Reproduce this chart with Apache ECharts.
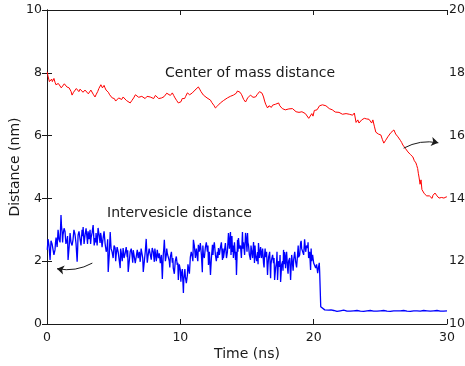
<!DOCTYPE html>
<html>
<head>
<meta charset="utf-8">
<script src="https://cdn.jsdelivr.net/npm/echarts@6/dist/echarts.min.js"></script>
<style>html,body{margin:0;padding:0;background:#fff}#c{width:465px;height:366px}</style>
</head>
<body>
<div id="c"></div>
<script>
var xTicks = [0, 10, 20, 30];
var leftTicks = [0, 2, 4, 6, 8, 10];
var rightTicks = [10, 12, 14, 16, 18, 20];

// Center of mass distance (right axis, nm)
var redTime = [0.02,0.12,0.23,0.35,0.45,0.6,0.75,0.95,1.2,1.4,1.58,1.75,1.88,2.1,2.3,2.48,2.7,3.0,3.2,3.38,3.6,3.8,3.98,4.1,4.21,4.35,4.51,4.7,4.89,5.05,5.26,5.5,5.71,5.95,6.24,6.5,6.77,7.0,7.22,7.5,7.74,8.0,8.27,8.5,8.7,8.87,9.1,9.4,9.6,9.85,10.05,10.23,10.4,10.53,10.7,10.9,11.1,11.35,11.55,11.73,12.0,12.26,12.45,12.63,12.8,13.0,13.25,13.53,13.75,13.98,14.2,14.36,14.6,14.89,15.05,15.26,15.45,15.64,15.85,16.02,16.24,16.4,16.54,16.75,16.92,17.15,17.37,17.55,17.74,18.0,18.27,18.55,18.8,19.0,19.25,19.5,19.77,19.95,20.15,20.35,20.53,20.8,21.05,21.3,21.5,21.75,22.03,22.3,22.56,22.78,23.05,23.31,23.5,23.68,23.9,24.06,24.25,24.44,24.66,24.85,25.04,25.26,25.4,25.56,25.8,26.02,26.15,26.32,26.5,26.69,26.9,27.07,27.25,27.44,27.67,27.8,27.9,28.05,28.2,28.4,28.57,28.8,28.95,29.1,29.25,29.4,29.6,29.77,29.9,30.0];
var redValue = [18.03,17.85,17.67,17.8,17.77,17.7,17.58,17.62,17.55,17.6,17.6,17.5,17.29,17.4,17.45,17.48,17.38,17.42,17.35,17.39,17.23,17.4,17.55,17.6,17.58,17.52,17.48,17.3,17.2,17.18,17.13,17.2,17.23,17.12,17.04,17.2,17.36,17.28,17.2,17.25,17.23,17.18,17.23,17.13,17.22,17.29,17.3,17.36,17.2,17.04,17.08,17.13,17.25,17.36,17.3,17.36,17.45,17.55,17.4,17.29,17.2,17.13,17.0,16.88,16.95,17.04,17.12,17.2,17.25,17.29,17.35,17.39,17.3,17.07,17.2,17.29,17.22,17.23,17.35,17.45,17.23,17.0,16.88,16.92,16.97,17.0,17.04,16.9,16.82,16.88,16.91,16.8,16.72,16.78,16.82,16.65,16.5,16.62,16.75,16.85,16.91,16.95,17.0,16.9,16.82,16.78,16.72,16.7,16.66,16.7,16.72,16.5,16.34,16.45,16.56,16.5,16.56,16.5,16.11,16.05,16.02,15.76,15.85,15.96,16.1,16.18,16.05,15.96,15.85,15.7,15.58,15.48,15.4,15.32,15.13,14.95,14.68,14.59,14.33,14.2,14.11,14.04,14.1,14.17,14.08,14.01,14.03,14.01,14.06,14.04];
var redTimeFine = [0.07,0.18,0.29,0.4,0.52,0.67,0.85,1.07,1.3,1.49,1.66,1.81,1.99,2.2,2.39,2.59,2.85,3.1,3.29,3.49,3.7,3.89,4.04,4.16,4.28,4.43,4.6,4.8,4.97,5.15,5.38,5.6,5.83,6.1,6.37,6.63,6.88,7.11,7.36,7.62,7.87,8.13,8.38,8.6,8.78,8.98,9.25,9.5,9.72,9.95,10.14,10.32,10.46,10.62,10.8,11.0,11.22,11.45,11.64,11.86,12.13,12.35,12.54,12.72,12.9,13.12,13.4,13.64,13.87,14.09,14.28,14.48,14.75,14.97,15.15,15.35,15.55,15.75,15.94,16.13,16.32,16.47,16.65,16.83,17.04,17.26,17.46,17.65,17.87,18.14,18.41,18.68,18.9,19.12,19.38,19.63,19.86,20.05,20.25,20.44,20.66,20.92,21.17,21.4,21.62,21.9,22.16,22.43,22.67,22.92,23.18,23.4,23.6,23.8,23.98,24.15,24.35,24.55,24.75,24.95,25.15,25.33,25.48,25.68,25.9,26.08,26.24,26.41,26.6,26.8,26.98,27.16,27.35,27.55,27.73,27.85,27.98,28.12,28.3,28.48,28.68,28.88,29.02,29.17,29.32,29.5,29.68,29.83,29.95];
var redValueFine = [17.9,17.72,17.75,17.72,17.82,17.62,17.66,17.52,17.65,17.55,17.52,17.4,17.38,17.5,17.4,17.5,17.45,17.33,17.45,17.3,17.32,17.5,17.62,17.52,17.6,17.45,17.38,17.25,17.22,17.1,17.2,17.15,17.18,17.1,17.12,17.3,17.22,17.25,17.18,17.28,17.2,17.28,17.18,17.2,17.24,17.35,17.28,17.28,17.12,17.0,17.18,17.18,17.3,17.38,17.28,17.42,17.5,17.48,17.35,17.25,17.18,17.06,16.95,16.92,17.0,17.08,17.15,17.25,17.22,17.32,17.42,17.38,17.15,17.12,17.22,17.3,17.18,17.3,17.4,17.35,17.1,16.95,16.95,16.9,16.95,17.0,16.95,16.86,16.82,16.85,16.86,16.76,16.74,16.76,16.7,16.55,16.7,16.8,16.82,16.95,16.98,16.95,16.86,16.82,16.75,16.74,16.68,16.7,16.68,16.65,16.42,16.4,16.5,16.55,16.53,16.52,16.4,16.3,16.06,16.0,15.88,15.8,15.88,16.02,16.12,16.12,16.02,15.92,15.78,15.65,15.52,15.45,15.36,15.2,15.05,14.8,14.45,14.28,14.15,14.08,14.08,14.0,14.12,14.12,14.04,14.02,14.05,14.02,14.05];

// Intervesicle distance (left axis, nm)
var blueTime = [0.02,0.08,0.23,0.38,0.45,0.6,0.68,0.83,0.9,1.05,1.13,1.2,1.35,1.5,1.58,1.73,1.8,1.95,2.1,2.26,2.33,2.48,2.63,2.71,2.86,3.0,3.08,3.23,3.31,3.46,3.61,3.68,3.83,3.98,4.06,4.21,4.36,4.51,4.59,4.74,4.81,4.96,5.11,5.19,5.34,5.49,5.56,5.71,5.86,6.02,6.09,6.24,6.39,6.47,6.62,6.77,6.84,6.99,7.14,7.22,7.37,7.44,7.59,7.74,7.89,8.05,8.12,8.27,8.35,8.5,8.65,8.72,8.8,8.95,9.02,9.17,9.25,9.4,9.47,9.62,9.77,9.85,10.0,10.08,10.23,10.3,10.38,10.53,10.6,10.75,10.9,10.98,11.13,11.28,11.35,11.5,11.65,11.73,11.88,12.03,12.11,12.26,12.41,12.48,12.63,12.78,12.86,13.01,13.16,13.23,13.38,13.53,13.61,13.76,13.83,13.91,13.98,14.14,14.21,14.29,14.36,14.51,14.66,14.74,14.89,14.96,15.04,15.11,15.26,15.34,15.49,15.56,15.64,15.79,15.86,16.02,16.09,16.24,16.32,16.39,16.54,16.62,16.77,16.84,16.99,17.07,17.22,17.29,17.44,17.52,17.67,17.74,17.82,17.89,18.05,18.12,18.27,18.42,18.5,18.65,18.8,18.87,19.02,19.1,19.25,19.4,19.55,19.62,19.77,19.85,20.0,20.15,20.3,20.38,20.45,20.53,20.6,20.68,20.83,20.98,21.13,21.5,22.0,22.5,23.0,23.5,24.0,24.5,25.0,25.5,26.0,26.5,27.0,27.5,28.0,28.5,29.0,29.5,30.0];
var blueValue = [2.36,2.7,2.04,2.55,2.6,2.36,2.75,3.0,2.7,3.47,2.95,2.83,2.95,2.68,2.04,2.9,2.6,2.68,2.85,1.98,2.83,2.7,3.0,3.09,2.85,2.74,2.95,3.0,2.75,3.15,2.74,2.9,3.06,2.58,2.8,2.74,2.55,2.45,1.66,2.93,2.4,2.1,2.42,2.2,2.29,1.78,2.3,2.42,2.25,2.13,1.66,2.3,2.13,2.35,1.94,2.36,2.1,1.98,2.2,1.66,2.3,2.71,2.2,2.35,2.42,1.98,2.3,2.36,2.1,1.94,1.43,2.2,2.68,2.2,2.26,2.0,2.13,1.95,1.78,2.0,1.88,1.4,1.72,1.6,0.99,1.45,1.5,1.56,1.82,2.13,2.13,2.68,2.1,2.1,2.52,2.58,1.65,2.2,2.45,2.3,1.88,1.56,2.52,2.42,2.2,2.3,2.42,2.45,2.04,2.1,2.58,2.3,2.9,2.93,2.5,2.29,2.1,2.04,1.56,2.68,2.74,2.5,2.93,2.6,2.9,2.58,2.9,2.52,2.04,2.35,2.61,1.94,2.2,2.29,2.58,2.45,2.1,1.94,2.2,2.13,1.56,2.13,1.46,2.04,1.94,1.4,1.98,1.4,1.82,1.34,2.0,2.36,2.29,1.78,1.72,2.0,1.4,1.9,2.04,1.98,2.26,2.13,2.58,2.4,2.2,2.3,2.42,2.1,1.72,2.0,1.94,1.78,1.62,1.8,1.66,0.55,0.5,0.51,0.45,0.48,0.44,0.43,0.42,0.41,0.42,0.41,0.42,0.41,0.42,0.41,0.42,0.42,0.41,0.42,0.41,0.42,0.42,0.41,0.42];
var blueTimeFine = [0.15,0.3,0.52,0.64,0.76,0.87,0.98,1.09,1.17,1.28,1.42,1.54,1.66,1.77,1.88,2.02,2.18,2.3,2.4,2.55,2.67,2.78,2.93,3.04,3.15,3.27,3.38,3.54,3.65,3.76,3.9,4.02,4.13,4.28,4.44,4.55,4.67,4.78,4.88,5.03,5.15,5.26,5.41,5.52,5.64,5.78,5.94,6.05,6.17,6.32,6.43,6.55,6.7,6.8,6.92,7.06,7.18,7.3,7.41,7.52,7.66,7.82,7.97,8.09,8.2,8.31,8.42,8.58,8.69,8.76,8.88,8.98,9.1,9.21,9.33,9.44,9.55,9.7,9.81,9.92,10.04,10.15,10.26,10.34,10.45,10.57,10.68,10.82,10.94,11.05,11.2,11.31,11.42,11.58,11.69,11.8,11.95,12.07,12.18,12.33,12.45,12.55,12.7,12.82,12.93,13.08,13.2,13.3,13.46,13.57,13.68,13.8,13.87,13.95,14.06,14.17,14.25,14.32,14.43,14.58,14.7,14.82,14.92,15.0,15.07,15.18,15.3,15.42,15.52,15.6,15.72,15.83,15.94,16.05,16.17,16.28,16.36,16.47,16.58,16.7,16.8,16.92,17.03,17.15,17.25,17.36,17.48,17.6,17.7,17.78,17.86,17.97,18.08,18.2,18.35,18.46,18.58,18.72,18.84,18.95,19.06,19.18,19.32,19.47,19.58,19.7,19.81,19.92,20.08,20.22,20.34,20.42,20.49,21.3,21.75,22.25,22.75,23.25,23.75,24.25,24.75,25.25,25.75,26.25,26.75,27.25,27.75,28.25,28.75,29.25,29.75];
var blueValueFine = [2.5,2.65,2.2,2.6,2.45,2.85,2.6,3.1,2.6,3.05,2.55,2.8,2.45,2.95,2.5,3.0,2.55,2.4,2.95,2.5,2.8,2.55,3.05,2.55,2.7,2.55,2.9,2.5,2.6,2.5,2.85,2.9,2.45,2.95,2.3,2.7,2.2,2.6,2.3,2.5,2.0,2.45,2.05,2.4,2.0,2.1,2.45,2.35,2.0,2.4,1.95,2.3,2.0,2.4,2.3,2.4,2.1,2.0,2.35,1.95,2.4,2.05,2.3,2.4,2.0,2.3,2.25,2.2,1.9,2.4,2.0,2.4,2.3,1.8,2.3,2.1,1.6,2.15,1.95,1.9,1.35,1.75,1.4,1.75,1.3,1.9,1.6,2.3,2.0,2.5,2.4,2.0,2.3,2.2,2.5,2.1,2.6,2.5,2.3,2.1,2.2,2.6,2.0,2.1,2.2,2.6,2.4,2.3,2.1,2.6,2.4,2.2,2.8,2.5,2.6,2.3,2.1,2.3,2.4,2.1,2.4,2.2,2.8,2.3,2.6,2.2,2.5,2.1,2.4,2.5,2.0,1.9,2.1,2.5,2.4,1.8,2.4,2.3,1.9,2.3,1.9,2.2,2.1,1.8,2.3,2.0,2.2,1.9,1.7,1.9,2.15,2.3,1.6,2.1,2.2,1.7,2.3,1.8,2.5,2.2,2.65,2.4,2.7,2.5,2.6,2.3,2.4,2.2,2.0,1.9,1.75,1.95,1.7,0.45,0.4,0.44,0.41,0.43,0.4,0.43,0.41,0.43,0.4,0.42,0.43,0.4,0.42,0.43,0.41,0.43,0.41];

function merge(t1, v1, t2, v2) {
  var r = [], i;
  for (i = 0; i < t1.length; i++) r.push([t1[i], v1[i]]);
  for (i = 0; i < t2.length; i++) r.push([t2[i], v2[i]]);
  r.sort(function (a, b) { return a[0] - b[0]; });
  return r;
}

var FONT = '"DejaVu Sans"';
var FS = 14;
var TFS = 12.5;
var TXT = '#1a1a1a';
var chart = echarts.init(document.getElementById('c'));
var axisLineStyle = { color: '#1a1a1a', width: 1 };
chart.setOption({
  animation: false,
  backgroundColor: '#fff',
  grid: { left: 47, right: 18, top: 10, bottom: 42, containLabel: false, outerBoundsMode: 'none' },
  xAxis: [
    { type: 'value', min: 0, max: 30, interval: 10, position: 'bottom',
      name: 'Time (ns)', nameLocation: 'middle', nameGap: 23, nameMoveOverlap: false,
      nameTextStyle: { fontFamily: FONT, fontSize: FS, color: TXT },
      axisLine: { lineStyle: axisLineStyle },
      axisTick: { inside: true, length: 5, lineStyle: axisLineStyle },
      axisLabel: { fontFamily: FONT, fontSize: TFS, color: TXT, margin: 7 },
      splitLine: { show: false } },
    { type: 'value', min: 0, max: 30, interval: 10, position: 'top',
      axisLine: { lineStyle: axisLineStyle },
      axisTick: { inside: true, length: 5, lineStyle: axisLineStyle },
      axisLabel: { show: false }, splitLine: { show: false } }
  ],
  yAxis: [
    { type: 'value', min: 0, max: 10, interval: 2, position: 'left',
      name: 'Distance (nm)', nameLocation: 'middle', nameGap: 25, nameMoveOverlap: false,
      nameTextStyle: { fontFamily: FONT, fontSize: FS, color: TXT },
      axisLine: { show: true, lineStyle: axisLineStyle },
      axisTick: { show: true, inside: true, length: 5, lineStyle: axisLineStyle },
      axisLabel: { fontFamily: FONT, fontSize: TFS, color: TXT, margin: 5 },
      splitLine: { show: false } },
    { type: 'value', min: 10, max: 20, interval: 2, position: 'right',
      axisLine: { show: true, lineStyle: axisLineStyle },
      axisTick: { show: true, inside: true, length: 5, lineStyle: axisLineStyle },
      axisLabel: { fontFamily: FONT, fontSize: TFS, color: TXT, margin: 2 },
      splitLine: { show: false } }
  ],
  series: [
    { name: 'Intervesicle distance', type: 'line', xAxisIndex: 0, yAxisIndex: 0,
      data: merge(blueTime, blueValue, blueTimeFine, blueValueFine), showSymbol: false, symbol: 'none',
      lineStyle: { color: '#0000ff', width: 1.3 }, z: 3 },
    { name: 'Center of mass distance', type: 'line', xAxisIndex: 0, yAxisIndex: 1,
      data: merge(redTime, redValue, redTimeFine, redValueFine), showSymbol: false, symbol: 'none',
      lineStyle: { color: '#ff0000', width: 1 }, z: 3 },
    { type: 'lines', coordinateSystem: 'cartesian2d', xAxisIndex: 0, yAxisIndex: 0,
      symbol: ['none', 'arrow'], symbolSize: 7,
      lineStyle: { color: '#1a1a1a', width: 1, opacity: 1, curveness: 0.18 },
      itemStyle: { color: '#1a1a1a', opacity: 1 },
      data: [
        { coords: [[26.75, 5.6], [29.35, 5.77]] },
        { coords: [[3.4, 1.94], [0.75, 1.76]] }
      ], z: 4 }
  ],
  graphic: [
    { type: 'text', left: 165, top: 66, style: { text: 'Center of mass distance', font: FS + 'px ' + FONT, fill: TXT } },
    { type: 'text', left: 107, top: 206, style: { text: 'Intervesicle distance', font: FS + 'px ' + FONT, fill: TXT } }
  ]
});
</script>
</body>
</html>
